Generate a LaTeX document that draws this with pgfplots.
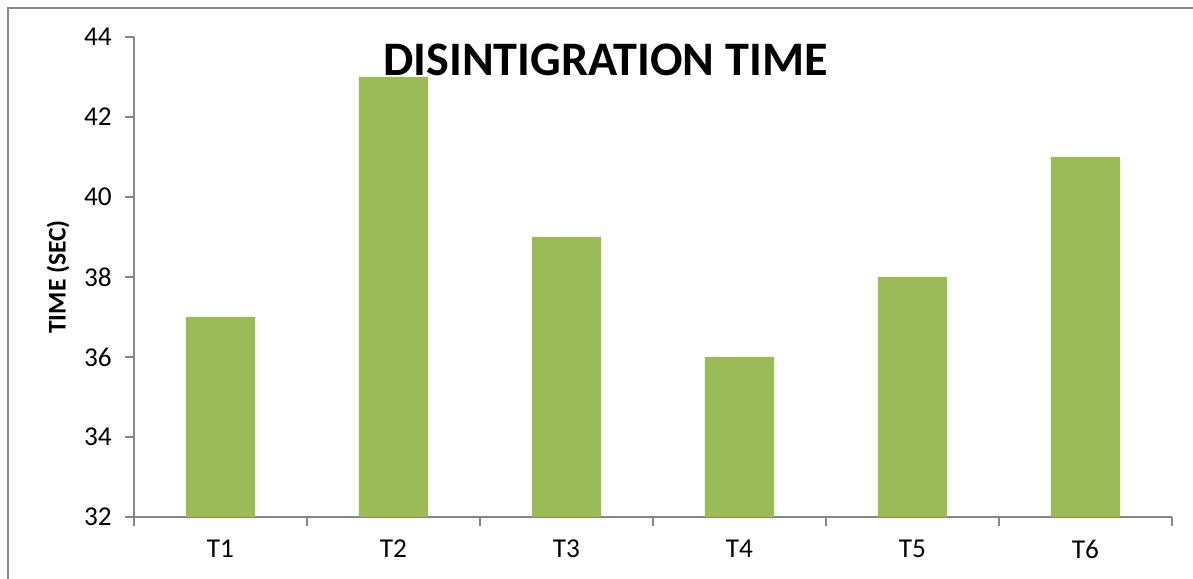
\documentclass[border=0pt]{standalone}
\usepackage{fontspec}
\setmainfont{Carlito}
\usepackage{pgfplots}
\pgfplotsset{compat=1.18}
\definecolor{barGreen}{HTML}{9BBB59}
\definecolor{axGray}{HTML}{868686}
\begin{document}
\begin{tikzpicture}
\useasboundingbox (0,0) rectangle (23.86cm,11.58cm);
% outer chart frame (only left and top edges visible)
\draw[axGray, line width=0.9pt] (0.16cm,0) -- (0.16cm,11.42cm) -- (23.86cm,11.42cm);
\begin{axis}[
  at={(2.68cm,1.24cm)}, anchor=south west,
  scale only axis,
  width=20.76cm, height=9.6cm,
  ymin=32, ymax=44,
  ytick={32,34,...,44},
  xmin=-0.5, xmax=5.5,
  xtick={0,...,5},
  xticklabels={T1,T2,T3,T4,T5,T6},
  minor xtick={-0.5,0.5,...,5.5},
  axis lines=left,
  axis line style={draw=axGray, line width=0.9pt, -},
  tick align=outside,
  major tick length=0.18cm,
  minor tick length=0.18cm,
  every major x tick/.style={draw=none},
  every tick/.style={axGray, line width=0.9pt},
  every minor tick/.style={axGray, line width=0.9pt},
  tick label style={font=\fontsize{15.5}{17}\selectfont},
  yticklabel style={xshift=-0.14cm},
  xticklabel style={yshift=-0.16cm},
  /pgf/number format/assume math mode=true,
  ylabel={\textbf{TIME (SEC)}},
  ylabel style={font=\fontsize{14.5}{16}\selectfont, at={(axis description cs:-0.0732,0.5)}, anchor=center},
  clip=true,
]
\addplot[ybar, bar width=0.4, fill=barGreen, draw=none] coordinates {
  (0,37) (1,43) (2,39) (3,36) (4,38) (5,41)
};
\end{axis}
\node[font=\fontsize{27.4}{30}\selectfont\bfseries, anchor=center] at (12.11cm,10.38cm) {DISINTIGRATION TIME};
\end{tikzpicture}
\end{document}
